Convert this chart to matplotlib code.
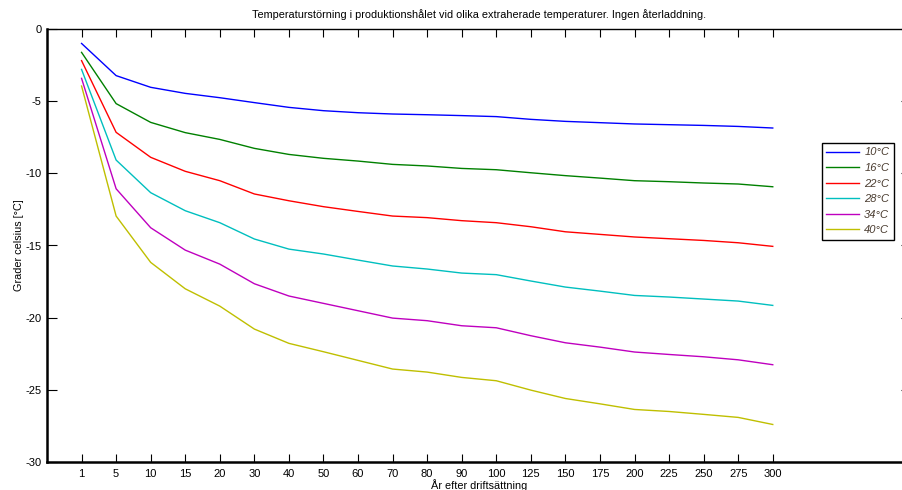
import matplotlib
matplotlib.use('Agg')
import matplotlib.pyplot as plt

plt.rcParams['font.family'] = ['Liberation Sans', 'DejaVu Sans']

years = ['1', '5', '10', '15', '20', '30', '40', '50', '60', '70', '80',
         '90', '100', '125', '150', '175', '200', '225', '250', '275', '300']

labels = ['10°C', '16°C', '22°C', '28°C', '34°C', '40°C']
colors = ['#0000ff', '#008000', '#ff0000', '#00bfbf', '#bf00bf', '#bfbf00']

t10 = [-1.0, -3.23, -4.04, -4.46, -4.76, -5.1, -5.43, -5.66, -5.8, -5.89, -5.94,
       -6.0, -6.07, -6.26, -6.4, -6.49, -6.58, -6.63, -6.68, -6.75, -6.86]
t16 = [-1.62, -5.17, -6.47, -7.18, -7.65, -8.27, -8.69, -8.96, -9.15, -9.38, -9.49,
       -9.66, -9.75, -9.96, -10.16, -10.33, -10.51, -10.58, -10.67, -10.74, -10.93]
t22 = [-2.19, -7.16, -8.89, -9.86, -10.51, -11.43, -11.9, -12.31, -12.64, -12.96, -13.07,
       -13.28, -13.42, -13.7, -14.05, -14.23, -14.41, -14.53, -14.65, -14.81, -15.06]
t28 = [-2.8, -9.08, -11.34, -12.59, -13.42, -14.55, -15.25, -15.59, -16.01, -16.42, -16.63,
       -16.91, -17.02, -17.46, -17.88, -18.16, -18.46, -18.57, -18.71, -18.85, -19.15]
t34 = [-3.42, -11.07, -13.77, -15.32, -16.29, -17.65, -18.5, -19.01, -19.52, -20.03, -20.21,
       -20.56, -20.7, -21.25, -21.74, -22.04, -22.38, -22.55, -22.71, -22.92, -23.26]
t40 = [-3.95, -12.96, -16.17, -18.0, -19.2, -20.79, -21.78, -22.36, -22.96, -23.56, -23.77,
       -24.14, -24.37, -25.02, -25.6, -25.97, -26.36, -26.5, -26.7, -26.91, -27.4]

series = [t10, t16, t22, t28, t34, t40]

fig = plt.figure(figsize=(9.03, 4.9), dpi=100)
ax = fig.add_axes([47 / 903, 1 - 462 / 490, 864 / 903, 433 / 490])

x = list(range(1, len(years) + 1))
for vals, lab, col in zip(series, labels, colors):
    ax.plot(x, vals, color=col, linewidth=1.0, label=lab)

ax.set_xlim(0, 25)
ax.set_ylim(-30, 0)
ax.set_xticks(x)
ax.set_xticklabels(years)
ax.set_yticks([-30, -25, -20, -15, -10, -5, 0])
ax.set_yticklabels(['-30', '-25', '-20', '-15', '-10', '-5', '0'])
ax.tick_params(direction='in', width=0.8, labelsize=8, top=True, right=True)
ax.tick_params(axis='y', length=7, pad=4)
ax.tick_params(axis='x', length=5.5, pad=5)

for side in ['left', 'bottom']:
    ax.spines[side].set_linewidth(1.8)
ax.spines['top'].set_linewidth(1.0)
ax.spines['right'].set_visible(False)

ax.set_title('Temperaturstörning i produktionshålet vid olika extraherade temperaturer. Ingen återladdning.',
             fontsize=7.8, pad=8)
ax.set_xlabel('År efter driftsättning', fontsize=7.8, labelpad=0)
ax.set_ylabel('Grader celsius [°C]', fontsize=7.8, labelpad=1)

leg = ax.legend(loc='upper left', bbox_to_anchor=(822 / 903, 1 - 143 / 490),
                bbox_transform=fig.transFigure, fancybox=False, framealpha=1,
                edgecolor='black', fontsize=8, handlelength=2.9, labelspacing=0.5,
                borderpad=0.4, handletextpad=0.5, borderaxespad=0)
leg.get_frame().set_linewidth(1.0)
for txt in leg.get_texts():
    txt.set_fontstyle('italic')
    txt.set_color('#4a3c30')

fig.savefig('out.png', dpi=100, facecolor='white')
